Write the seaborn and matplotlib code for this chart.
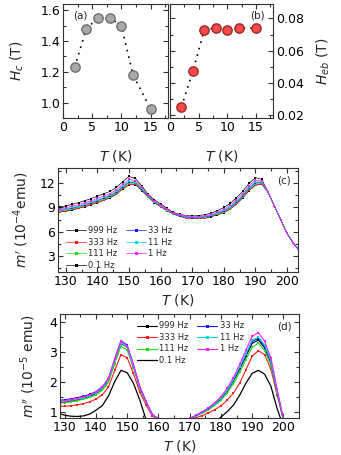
import numpy as np
import pandas as pd
import seaborn as sns
import matplotlib.pyplot as plt
from matplotlib.ticker import MultipleLocator

#------------------------------------------------------------------------------------------------------------------------
# DATA
# panel (a) / (b): coercive field and exchange bias vs temperature
t_loop = [2, 4, 6, 8, 10, 12, 15]
h_c = [1.23, 1.48, 1.55, 1.55, 1.50, 1.18, 0.96]
h_eb = [0.025, 0.047, 0.073, 0.074, 0.073, 0.074, 0.074]

# panels (c) / (d): ac susceptibility, temperature grid (K)
t_ac = [128, 130, 132, 134, 136, 138, 140, 142, 144, 146, 148, 150, 152, 154, 156, 158, 160, 162, 164, 166,
        168, 170, 172, 174, 176, 178, 180, 182, 184, 186, 188, 190, 192, 194, 196, 198, 200, 202, 204]

freq_labels = ['999 Hz', '333 Hz', '111 Hz', '0.1 Hz', '33 Hz', '11 Hz', '1 Hz']
freq_colors = ['#000000', '#ff1a1a', '#1ed81e', '#000000', '#1a1aff', '#00d8d8', '#ff1aff']

# m' (10^-4 emu)
m1_999 = [8.45, 8.55, 8.70, 8.90, 9.10, 9.35, 9.60, 9.90, 10.20, 10.65, 11.30, 11.80, 11.85, 11.10, 10.30, 9.60, 9.10, 8.60, 8.20, 7.90,
          7.70, 7.65, 7.65, 7.70, 7.85, 8.10, 8.35, 8.80, 9.40, 10.20, 11.10, 11.75, 11.90, 10.90, 9.20, 7.50, 5.80, 4.60, 3.60]
m1_333 = [8.50, 8.60, 8.76, 8.96, 9.16, 9.41, 9.66, 9.96, 10.26, 10.72, 11.37, 11.88, 11.91, 11.15, 10.32, 9.62, 9.12, 8.62, 8.22, 7.92,
          7.72, 7.67, 7.68, 7.73, 7.89, 8.14, 8.40, 8.86, 9.46, 10.26, 11.17, 11.83, 11.95, 10.90, 9.20, 7.50, 5.80, 4.60, 3.60]
m1_111 = [8.57, 8.68, 8.84, 9.04, 9.25, 9.50, 9.76, 10.06, 10.36, 10.82, 11.48, 12.01, 12.00, 11.22, 10.36, 9.66, 9.16, 8.66, 8.24, 7.95,
          7.76, 7.71, 7.72, 7.78, 7.94, 8.20, 8.48, 8.94, 9.56, 10.36, 11.28, 11.94, 12.02, 10.90, 9.20, 7.50, 5.80, 4.60, 3.60]
m1_01 = [9.05, 9.20, 9.40, 9.60, 9.85, 10.10, 10.40, 10.70, 11.00, 11.50, 12.20, 12.85, 12.60, 11.70, 10.65, 9.95, 9.45, 8.90, 8.40, 8.15,
         8.00, 7.95, 8.00, 8.10, 8.30, 8.60, 9.00, 9.50, 10.20, 11.00, 12.00, 12.70, 12.50, 10.95, 9.20, 7.50, 5.80, 4.60, 3.60]
m1_33 = [8.65, 8.76, 8.93, 9.13, 9.35, 9.60, 9.86, 10.16, 10.46, 10.93, 11.60, 12.15, 12.10, 11.30, 10.40, 9.70, 9.20, 8.70, 8.27, 7.98,
         7.80, 7.75, 7.77, 7.83, 8.00, 8.27, 8.56, 9.03, 9.66, 10.46, 11.40, 12.06, 12.10, 10.90, 9.20, 7.50, 5.80, 4.60, 3.60]
m1_11 = [8.72, 8.84, 9.02, 9.22, 9.44, 9.69, 9.96, 10.26, 10.56, 11.03, 11.71, 12.27, 12.19, 11.37, 10.44, 9.74, 9.24, 8.74, 8.29, 8.01,
         7.84, 7.79, 7.81, 7.88, 8.05, 8.33, 8.64, 9.12, 9.76, 10.56, 11.51, 12.18, 12.17, 10.90, 9.20, 7.50, 5.80, 4.60, 3.60]
m1_1 = [8.84, 8.97, 9.16, 9.36, 9.59, 9.84, 10.12, 10.42, 10.72, 11.20, 11.89, 12.48, 12.34, 11.49, 10.50, 9.80, 9.30, 8.80, 8.33, 8.06,
        7.90, 7.85, 7.88, 7.96, 8.14, 8.43, 8.77, 9.26, 9.92, 10.72, 11.69, 12.37, 12.29, 10.92, 9.20, 7.50, 5.80, 4.60, 3.60]

# m'' (10^-5 emu)
m2_999 = [1.30, 1.32, 1.35, 1.39, 1.44, 1.51, 1.60, 1.76, 2.04, 2.68, 3.28, 3.15, 2.53, 1.82, 1.34, 0.91, 0.76, 0.72, 0.71, 0.71,
          0.72, 0.77, 0.86, 0.97, 1.09, 1.25, 1.43, 1.69, 2.02, 2.42, 2.85, 3.28, 3.39, 3.13, 2.62, 1.65, 0.74, 0.42, 0.35]
m2_333 = [1.18, 1.18, 1.20, 1.23, 1.27, 1.33, 1.42, 1.56, 1.82, 2.38, 2.90, 2.80, 2.28, 1.66, 1.24, 0.86, 0.72, 0.69, 0.68, 0.68,
          0.69, 0.74, 0.80, 0.87, 0.96, 1.07, 1.20, 1.38, 1.62, 1.95, 2.40, 2.85, 3.04, 2.90, 2.42, 1.55, 0.72, 0.42, 0.35]
m2_111 = [1.28, 1.30, 1.33, 1.37, 1.42, 1.48, 1.56, 1.71, 1.98, 2.60, 3.18, 3.06, 2.47, 1.78, 1.32, 0.89, 0.75, 0.71, 0.70, 0.70,
          0.71, 0.76, 0.85, 0.95, 1.06, 1.21, 1.38, 1.62, 1.94, 2.32, 2.74, 3.15, 3.29, 3.04, 2.55, 1.62, 0.74, 0.42, 0.35]
m2_01 = [0.95, 0.88, 0.85, 0.84, 0.86, 0.92, 1.05, 1.20, 1.52, 2.00, 2.38, 2.30, 1.95, 1.40, 0.75, 0.45, 0.35, 0.32, 0.30, 0.30,
         0.31, 0.33, 0.36, 0.42, 0.50, 0.64, 0.82, 1.00, 1.22, 1.55, 1.95, 2.28, 2.38, 2.25, 1.85, 1.10, 0.50, 0.30, 0.25]
m2_33 = [1.38, 1.40, 1.43, 1.47, 1.52, 1.58, 1.67, 1.83, 2.10, 2.76, 3.37, 3.22, 2.57, 1.84, 1.36, 0.91, 0.76, 0.72, 0.71, 0.71,
         0.72, 0.78, 0.87, 0.98, 1.10, 1.26, 1.45, 1.71, 2.05, 2.46, 2.90, 3.34, 3.45, 3.18, 2.67, 1.68, 0.75, 0.42, 0.35]
m2_11 = [1.33, 1.35, 1.38, 1.42, 1.47, 1.54, 1.62, 1.78, 2.06, 2.70, 3.30, 3.16, 2.52, 1.81, 1.34, 0.90, 0.76, 0.72, 0.71, 0.71,
         0.72, 0.78, 0.87, 0.98, 1.11, 1.27, 1.46, 1.72, 2.07, 2.49, 2.94, 3.38, 3.49, 3.22, 2.70, 1.70, 0.75, 0.42, 0.35]
m2_1 = [1.35, 1.37, 1.40, 1.44, 1.49, 1.56, 1.65, 1.82, 2.10, 2.75, 3.35, 3.20, 2.55, 1.82, 1.35, 0.90, 0.76, 0.72, 0.71, 0.71,
        0.72, 0.78, 0.88, 1.00, 1.13, 1.30, 1.50, 1.78, 2.14, 2.58, 3.05, 3.52, 3.64, 3.35, 2.80, 1.75, 0.75, 0.45, 0.35]

m1_series = [m1_999, m1_333, m1_111, m1_01, m1_33, m1_11, m1_1]
m2_series = [m2_999, m2_333, m2_111, m2_01, m2_33, m2_11, m2_1]

#------------------------------------------------------------------------------------------------------------------------
# STYLE
sns.set_style("ticks")
plt.rcParams['font.family'] = ['DejaVu Sans']
plt.rcParams['axes.edgecolor'] = '#333333'
plt.rcParams['xtick.direction'] = 'in'
plt.rcParams['ytick.direction'] = 'in'
plt.rcParams['xtick.color'] = '#333333'
plt.rcParams['ytick.color'] = '#333333'
plt.rcParams['xtick.labelcolor'] = 'black'
plt.rcParams['ytick.labelcolor'] = 'black'
plt.rcParams['xtick.labelsize'] = 9
plt.rcParams['ytick.labelsize'] = 9
plt.rcParams['axes.labelsize'] = 10

fig = plt.figure(figsize=(3.41, 4.55), dpi=100)
ax_a = fig.add_axes([0.1848, 0.7407, 0.3079, 0.2505])
ax_b = fig.add_axes([0.4985, 0.7407, 0.3021, 0.2505])
ax_c = fig.add_axes([0.1701, 0.4022, 0.7038, 0.2286])
ax_d = fig.add_axes([0.1760, 0.0813, 0.7009, 0.2286])

legend_kw = dict(ncol=2, frameon=False, fontsize=6, handlelength=2.4, handletextpad=0.3,
                 columnspacing=1.0, labelspacing=0.3, markerscale=1.2)


def style_ticks(ax):
    ax.tick_params(which='both', top=True, right=True, width=0.8)
    ax.tick_params(which='major', length=3.5, pad=2)
    ax.tick_params(which='minor', length=2)


# (a) coercive field
sns.lineplot(x=t_loop, y=h_c, ax=ax_a, color='black', linestyle=(0, (1, 3)), linewidth=1.2)
sns.scatterplot(x=t_loop, y=h_c, ax=ax_a, color='#a9a9a9', edgecolor='#707070', linewidth=1, s=45, zorder=3)
ax_a.set_xlim(0, 18)
ax_a.set_ylim(0.9, 1.64)
ax_a.xaxis.set_major_locator(MultipleLocator(5))
ax_a.xaxis.set_minor_locator(MultipleLocator(2.5))
ax_a.yaxis.set_major_locator(MultipleLocator(0.2))
ax_a.yaxis.set_minor_locator(MultipleLocator(0.1))
ax_a.set_xlabel('$T$ (K)', labelpad=10)
ax_a.set_ylabel('$H_c$ (T)', labelpad=10)
ax_a.text(0.1, 0.94, '(a)', transform=ax_a.transAxes, fontsize=7.5, va='top')
style_ticks(ax_a)

# (b) exchange bias
sns.lineplot(x=t_loop, y=h_eb, ax=ax_b, color='black', linestyle=(0, (1, 3)), linewidth=1.2)
sns.scatterplot(x=t_loop, y=h_eb, ax=ax_b, color='#f04a4a', edgecolor='#a02828', linewidth=1, s=45, zorder=3)
ax_b.set_xlim(0, 18)
ax_b.set_ylim(0.018, 0.089)
ax_b.xaxis.set_major_locator(MultipleLocator(5))
ax_b.xaxis.set_minor_locator(MultipleLocator(2.5))
ax_b.yaxis.set_major_locator(MultipleLocator(0.02))
ax_b.yaxis.set_minor_locator(MultipleLocator(0.01))
ax_b.yaxis.tick_right()
ax_b.yaxis.set_label_position('right')
style_ticks(ax_b)
ax_b.tick_params(which='both', left=True, labelleft=False, labelright=True)
ax_b.set_xlabel('$T$ (K)', labelpad=10)
ax_b.set_ylabel('$H_{eb}$ (T)', labelpad=8)
ax_b.text(0.92, 0.94, '(b)', transform=ax_b.transAxes, fontsize=7.5, va='top', ha='right')

# (c) real part
for vals, lab, col in zip(m1_series, freq_labels, freq_colors):
    sns.lineplot(x=t_ac, y=vals, ax=ax_c, color=col, linewidth=0.5, marker='s', markersize=1.8,
                 markeredgewidth=0, label=lab)
ax_c.set_xlim(127.5, 203.5)
ax_c.set_ylim(1, 13.9)
ax_c.xaxis.set_major_locator(MultipleLocator(10))
ax_c.xaxis.set_minor_locator(MultipleLocator(5))
ax_c.yaxis.set_major_locator(MultipleLocator(3))
ax_c.yaxis.set_minor_locator(MultipleLocator(1.5))
ax_c.set_xlabel('$T$ (K)', labelpad=3)
ax_c.set_ylabel("$m'$ (10$^{-4}$emu)", labelpad=6)
ax_c.text(0.97, 0.93, '(c)', transform=ax_c.transAxes, fontsize=7.5, va='top', ha='right')
style_ticks(ax_c)
ax_c.legend(loc='lower left', bbox_to_anchor=(0.0, -0.05), **legend_kw)

# (d) imaginary part
for vals, lab, col in zip(m2_series, freq_labels, freq_colors):
    if lab == '0.1 Hz':
        sns.lineplot(x=t_ac, y=vals, ax=ax_d, color=col, linewidth=0.9, label=lab)
    else:
        sns.lineplot(x=t_ac, y=vals, ax=ax_d, color=col, linewidth=0.8, marker='s', markersize=1.8,
                     markeredgewidth=0, label=lab)
ax_d.set_xlim(128.5, 205)
ax_d.set_ylim(0.79, 4.26)
ax_d.xaxis.set_major_locator(MultipleLocator(10))
ax_d.xaxis.set_minor_locator(MultipleLocator(5))
ax_d.yaxis.set_major_locator(MultipleLocator(1))
ax_d.yaxis.set_minor_locator(MultipleLocator(0.5))
ax_d.set_xlabel('$T$ (K)', labelpad=3)
ax_d.set_ylabel("$m''$ (10$^{-5}$ emu)", labelpad=8)
ax_d.text(0.97, 0.93, '(d)', transform=ax_d.transAxes, fontsize=7.5, va='top', ha='right')
style_ticks(ax_d)
ax_d.legend(loc='upper left', bbox_to_anchor=(0.29, 1.0), **legend_kw)

fig.savefig('out.png', dpi=100)
